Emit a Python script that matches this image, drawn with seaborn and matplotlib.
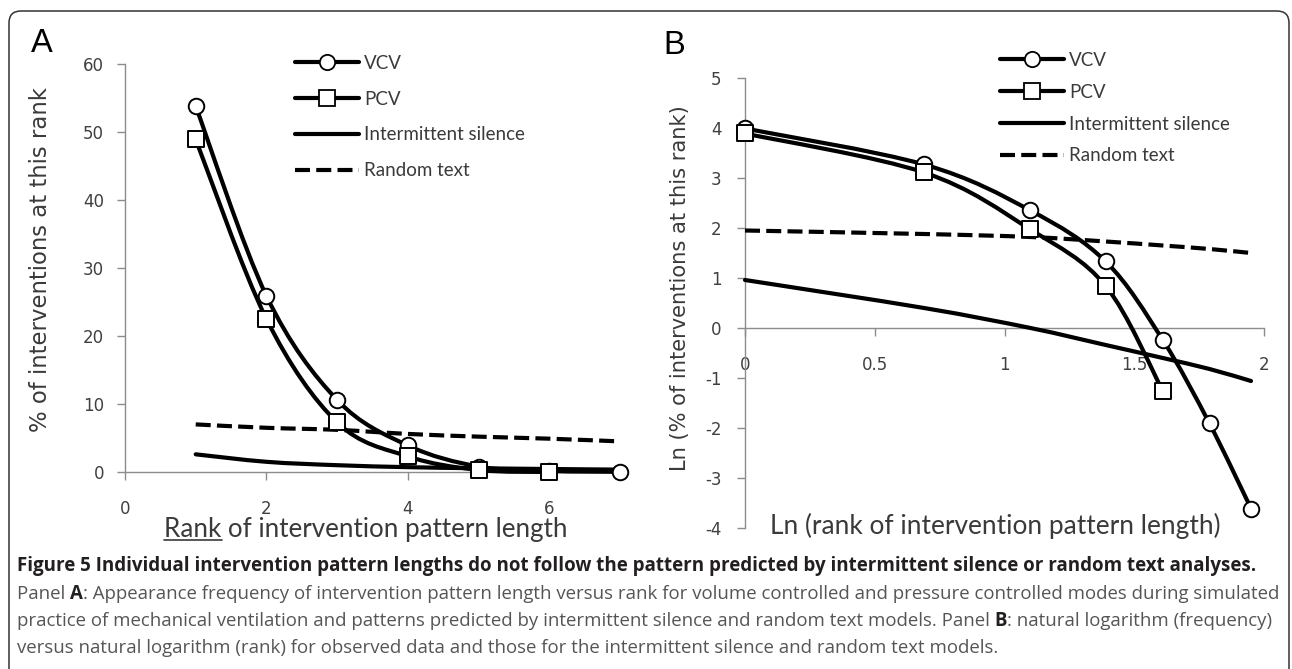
import numpy as np
import pandas as pd
import seaborn as sns
import matplotlib.pyplot as plt
from matplotlib.path import Path
from matplotlib.patches import PathPatch, FancyBboxPatch
from matplotlib.lines import Line2D
from matplotlib.transforms import IdentityTransform

# ---- values ----
# Panel A: % of interventions at each rank
ranks = [1, 2, 3, 4, 5, 6, 7]
vcv_pct = [53.8, 25.9, 10.6, 3.9, 0.8, 0.15, 0.03]
pcv_ranks = [1, 2, 3, 4, 5, 6]
pcv_pct = [48.9, 22.5, 7.3, 2.3, 0.3, 0.0]
silence_pct = [2.6, 1.5, 1.0, 0.71, 0.55, 0.44, 0.35]
random_pct = [7.0, 6.5, 6.2, 5.6, 5.2, 4.9, 4.5]

# Panel B: natural logs
ln_ranks = [0.0, 0.69, 1.10, 1.39, 1.61, 1.79, 1.95]
vcv_ln = [3.99, 3.27, 2.35, 1.33, -0.24, -1.91, -3.61]
pcv_ln_ranks = [0.0, 0.69, 1.10, 1.39, 1.61]
pcv_ln = [3.89, 3.11, 1.97, 0.84, -1.26]
silence_ln = [0.96, 0.40, 0.0, -0.34, -0.60, -0.82, -1.06]
random_ln = [1.95, 1.88, 1.82, 1.73, 1.65, 1.58, 1.50]

legend_labels = ["VCV", "PCV", "Intermittent silence", "Random text"]

W, H = 1292, 669
AXIS_GRAY = "#8c8c8c"
TICK_TEXT = "#404040"
LABEL_TEXT = "#3a3a3a"
DASH = (0, (3.6, 1.5))

sns.set_theme(style="white")
plt.rcParams["font.family"] = ["DejaVu Sans"]
plt.rcParams["axes.unicode_minus"] = False

fig = plt.figure(figsize=(W / 100, H / 100), dpi=100)
renderer = fig.canvas.get_renderer()


def px_axes(x0, y_top, x1, y_bot):
    return fig.add_axes([x0 / W, 1 - y_bot / H, (x1 - x0) / W, (y_bot - y_top) / H])


def smooth_line(ax, xs, ys, dashed=False):
    # Excel-style smoothed line (Catmull-Rom as cubic Bezier)
    pts = np.column_stack([xs, ys]).astype(float)
    n = len(pts)
    verts, codes = [pts[0]], [Path.MOVETO]
    for i in range(n - 1):
        p0, p1 = pts[max(i - 1, 0)], pts[i]
        p2, p3 = pts[i + 1], pts[min(i + 2, n - 1)]
        verts += [p1 + (p2 - p0) / 6, p2 - (p3 - p1) / 6, p2]
        codes += [Path.CURVE4] * 3
    ax.add_patch(PathPatch(Path(verts, codes), fill=False, edgecolor="black", lw=3,
                           capstyle="butt" if dashed else "round", joinstyle="round",
                           linestyle=DASH if dashed else "-", zorder=3, clip_on=False))


def markers(ax, xs, ys, marker):
    df = pd.DataFrame({"x": xs, "y": ys})
    sns.scatterplot(data=df, x="x", y="y", marker=marker, s=125, color="white",
                    edgecolor="black", linewidth=1.4, zorder=4, clip_on=False, ax=ax)


def style_axes(ax):
    sns.despine(ax=ax)
    for s in ("left", "bottom"):
        ax.spines[s].set_color(AXIS_GRAY)
        ax.spines[s].set_linewidth(1.0)
    ax.tick_params(bottom=True, left=True, direction="out", length=6, width=1,
                   color=AXIS_GRAY, labelcolor=TICK_TEXT, labelsize=12)
    ax.set_axisbelow(True)
    ax.set_xlabel("")
    ax.set_ylabel("")


def legend(ax, x_px, top_px, spacing):
    handles = [
        Line2D([], [], color="black", lw=3, marker="o", ms=11, mfc="white", mec="black", mew=1.3),
        Line2D([], [], color="black", lw=3, marker="s", ms=11, mfc="white", mec="black", mew=1.3),
        Line2D([], [], color="black", lw=3),
        Line2D([], [], color="black", lw=3, linestyle=DASH, dash_capstyle="butt"),
    ]
    leg = ax.legend(handles, legend_labels, loc="upper left",
                    bbox_to_anchor=(x_px / W, 1 - top_px / H), bbox_transform=fig.transFigure,
                    frameon=False, borderpad=0, borderaxespad=0, handlelength=3.4,
                    handletextpad=0.27, labelspacing=spacing,
                    prop={"family": ["Lato", "DejaVu Sans"], "size": 13.5})
    for t in leg.get_texts():
        t.set_color(LABEL_TEXT)


# ---- Panel A ----
axA = px_axes(125, 64, 620, 472)
smooth_line(axA, ranks, random_pct, dashed=True)
smooth_line(axA, ranks, silence_pct)
smooth_line(axA, ranks, vcv_pct)
smooth_line(axA, pcv_ranks, pcv_pct)
markers(axA, ranks, vcv_pct, "o")
markers(axA, pcv_ranks, pcv_pct, "s")
axA.set_xlim(0, 7)
axA.set_ylim(0, 60)
axA.set_xticks([0, 2, 4, 6])
axA.set_yticks(range(0, 61, 10))
style_axes(axA)
axA.tick_params(axis="x", pad=14)
axA.tick_params(axis="y", pad=9)
legend(axA, 295, 55, 1.0)

# ---- Panel B ----
axB = px_axes(745, 78, 1264, 528)
smooth_line(axB, ln_ranks, random_ln, dashed=True)
smooth_line(axB, ln_ranks, silence_ln)
smooth_line(axB, ln_ranks, vcv_ln)
smooth_line(axB, pcv_ln_ranks, pcv_ln)
markers(axB, ln_ranks, vcv_ln, "o")
markers(axB, pcv_ln_ranks, pcv_ln, "s")
axB.set_xlim(0, 2)
axB.set_ylim(-4, 5)
axB.set_xticks([0, 0.5, 1, 1.5, 2])
axB.set_xticklabels(["0", "0.5", "1", "1.5", "2"])
axB.set_yticks(range(-4, 6))
style_axes(axB)
axB.spines["bottom"].set_position(("data", 0))
axB.tick_params(axis="x", pad=14)
axB.tick_params(axis="y", pad=11)
legend(axB, 1000, 52, 0.79)


# ---- text helpers (pixel coordinates from the top-left) ----
def ptext(x, y, s, fit=None, vertical=False, **kw):
    t = fig.text(x, H - y, s, transform=IdentityTransform(), **kw)
    if fit:
        bb = t.get_window_extent(renderer)
        cur = bb.height if vertical else bb.width
        t.set_fontsize(t.get_fontsize() * fit / cur)
    return t


def advance(s, **kw):
    t = fig.text(0, 0, s + "|", transform=IdentityTransform(), **kw)
    b = fig.text(0, 0, "|", transform=IdentityTransform(), **kw)
    w = t.get_window_extent(renderer).width - b.get_window_extent(renderer).width
    t.remove()
    b.remove()
    return w


ptext(42, 43, "A", fontsize=23.5, family=["Liberation Sans", "DejaVu Sans"], color="black",
      ha="center", va="center")
ptext(674, 45, "B", fontsize=23.5, family=["Liberation Sans", "DejaVu Sans"], color="black",
      ha="center", va="center")

ptext(41, 260, "% of interventions at this rank", fit=347, vertical=True, rotation=90,
      fontsize=14, color=LABEL_TEXT, ha="center", va="center")
ptext(680, 288, "Ln (% of interventions at this rank)", fit=369, vertical=True, rotation=90,
      fontsize=14, color=LABEL_TEXT, ha="center", va="center")

xl_kw = dict(family=["Lato", "DejaVu Sans"], color=LABEL_TEXT)
xa = ptext(366, 537, "Rank of intervention pattern length", fit=404, fontsize=14,
           ha="center", va="baseline", **xl_kw)
bb = xa.get_window_extent(renderer)
rank_w = advance("Rank", fontsize=xa.get_fontsize(), **xl_kw)
fig.add_artist(Line2D([bb.x0, bb.x0 + rank_w], [H - 540, H - 540], color=LABEL_TEXT, lw=1.2,
                      transform=IdentityTransform()))
ptext(995, 534, "Ln (rank of intervention pattern length)", fit=451, fontsize=14,
      ha="center", va="baseline", **xl_kw)

# ---- caption ----
CAP_FONT = ["Open Sans", "DejaVu Sans"]
DARK = "#231f20"
GRAY = "#555555"
caption = [
    [("Figure 5 Individual intervention pattern lengths do not follow the pattern predicted by "
      "intermittent silence or random text analyses.", "bold", DARK)],
    [("Panel ", "normal", GRAY), ("A", "bold", DARK),
     (": Appearance frequency of intervention pattern length versus rank for volume controlled "
      "and pressure controlled modes during simulated", "normal", GRAY)],
    [("practice of mechanical ventilation and patterns predicted by intermittent silence and "
      "random text models. Panel ", "normal", GRAY), ("B", "bold", DARK),
     (": natural logarithm (frequency)", "normal", GRAY)],
    [("versus natural logarithm (rank) for observed data and those for the intermittent "
      "silence and random text models.", "normal", GRAY)],
]
cap_y = [566, 594, 621, 648]


def line_width(runs, size):
    return sum(advance(s, fontsize=size, fontweight=w, family=CAP_FONT) for s, w, _ in runs)


bold_size = 10 * 1242 / line_width(caption[0], 10)
body_size = 10 * 1257 / line_width(caption[1], 10)
for i, (runs, y) in enumerate(zip(caption, cap_y)):
    size = bold_size if i == 0 else body_size
    x = 17
    for s, w, c in runs:
        ptext(x, y, s, fontsize=size, fontweight=w, family=CAP_FONT, color=c,
              ha="left", va="center")
        x += advance(s, fontsize=size, fontweight=w, family=CAP_FONT)

# rounded frame around the figure
fig.add_artist(FancyBboxPatch((9, -40), 1280, H - 11 + 40, boxstyle="round,pad=0,rounding_size=12",
                              fill=False, edgecolor="#333333", lw=1.1,
                              transform=IdentityTransform()))

fig.savefig("out.png", dpi=100)
